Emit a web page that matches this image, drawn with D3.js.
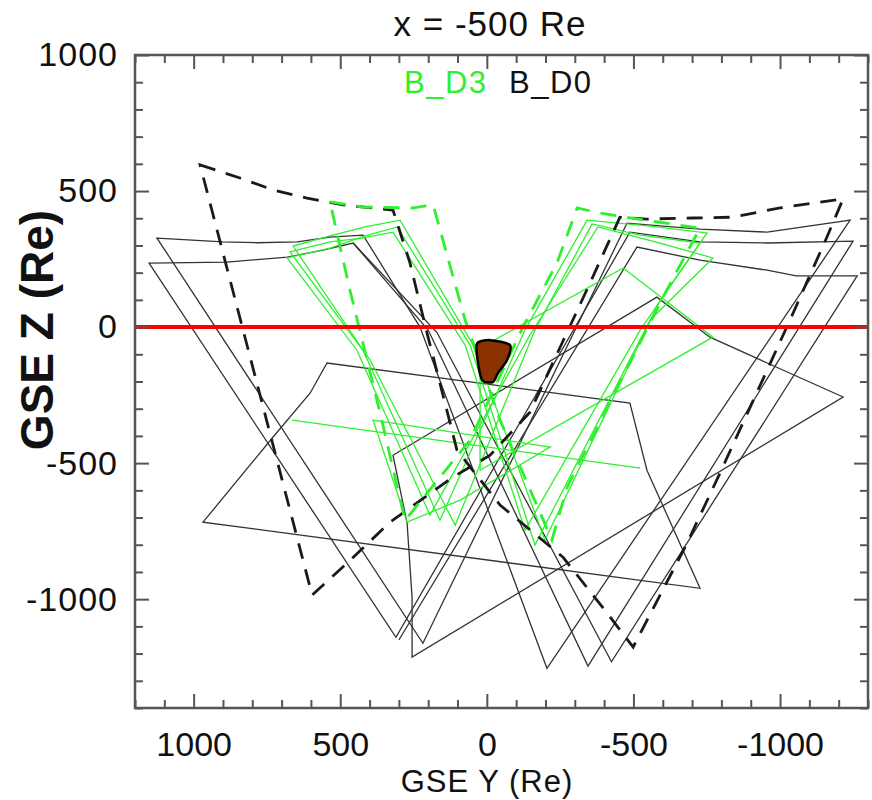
<!DOCTYPE html>
<html>
<head>
<meta charset="utf-8">
<script src="https://cdn.jsdelivr.net/npm/d3@7"></script>
<style>
  html, body { margin: 0; padding: 0; background: #fff; }
  svg { display: block; }
  text { font-family: "Liberation Sans", Arial, sans-serif; }
</style>
</head>
<body>
<svg id="chart" width="872" height="800"></svg>
<script>
// ---- axis setup (GSE Y runs right-to-left) ----
const yDomainGSE = [1200, -1300];
const zDomainGSE = [-1400, 1000];
const majorTicksY = [1000, 500, 0, -500, -1000];
const majorTicksZ = [1000, 500, 0, -500, -1000];
const tickLabelsY = ["1000", "500", "0", "-500", "-1000"];
const tickLabelsZ = ["1000", "500", "0", "-500", "-1000"];

// ---- B_D0 footprints (black), [GSE Y, GSE Z] in Re ----
const d0Wedge1 = [[1125,327],[900,313],[785,310],[647,313],[535,331],[422,338],[228,0],[-205,-1254],
  [-1239,393],[-956,349],[-727,360],[-478,382],[218,-1162]];
const d0Wedge2 = [[1152,235],[886,239],[681,257],[559,283],[456,309],[200,-11],[-345,-1246],
  [-1249,316],[-956,309],[-727,313],[-488,349],[310,-1140]];
const d0Wedge3 = [[456,309],[170,-20],[-425,-1230],[-1263,188],[-1055,188],[-956,209],[-727,246],[-512,294],[300,-1150]];
const d0Quad1 = [[968,-717],[729,-404],[603,-243],[545,-132],[-488,-279],[-546,-526],[-727,-960]];
const d0Quad2 = [[320,-471],[-580,110],[-761,-37],[-956,-132],[-1215,-257],[255,-1213],[255,-993],[272,-721]];
const d0Outer = [[978,596],[842,548],[729,504],[613,474],[490,449],[320,430],[262,235],[204,-22],[160,-206],
  [102,-452],[-45,-654],[-260,-846],[-410,-1051],[-499,-1176],[-683,-794],[-795,-537],[-1034,26],[-1160,331],
  [-1215,471],[-1000,438],[-840,404],[-703,401],[-546,397],[-454,404],[-352,162],[-250,-74],[-147,-313],
  [-11,-471],[115,-551],[330,-717],[477,-868],[596,-985]];

// ---- B_D3 footprints (green) ----
const d3Wedge1 = [[661,298],[535,335],[415,368],[296,393],[47,-66],[-198,-783],[-591,99],[-751,346],
  [-557,371],[-342,393],[-130,-11],[160,-710],[422,-85]];
const d3Wedge2 = [[681,254],[535,290],[415,335],[306,368],[57,-66],[-164,-801],[-557,26],[-771,254],
  [-591,309],[-379,368],[-147,-29],[194,-691],[443,-85]];
const d3Wedge3 = [[671,276],[535,313],[426,327],[320,349],[74,-66],[-130,-746],[-523,-11],[-727,309],
  [-523,338],[-359,379],[-164,-11],[108,-728],[398,-121]];
const d3Quad1 = [[664,-342],[-523,-518]];
const d3Quad2 = [[23,-77],[-465,217],[-771,-37],[23,-526]];
const d3Quad3 = [[388,-342],[-216,-441],[91,-636],[272,-717]];
const d3Outer = [[535,460],[422,441],[252,438],[183,449],[115,184],[74,26],[-45,-342],[-222,-783],
  [-274,-588],[-601,110],[-727,364],[-557,390],[-386,419],[-308,438],[-239,235],[-123,0],[57,-415],
  [279,-710],[364,-316],[467,136]];

// ---- body outline near the origin ----
const bodyOutline = [[33,-59],[-11,-48],[-79,-66],[-69,-121],[-38,-169],[-21,-202],[16,-195],[33,-110]];

const legendNames = ["B_D3", "B_D0"];
const titleText = "x = -500 Re";

const svg = d3.select("#chart");
const margin = { left: 135, right: 868, top: 55, bottom: 708 };

const x = d3.scaleLinear().domain(yDomainGSE).range([margin.left, margin.right]);
const y = d3.scaleLinear().domain(zDomainGSE).range([margin.bottom, margin.top]);

svg.append("clipPath").attr("id", "plotClip").append("rect")
  .attr("x", margin.left).attr("y", margin.top)
  .attr("width", margin.right - margin.left).attr("height", margin.bottom - margin.top);

const plot = svg.append("g").attr("clip-path", "url(#plotClip)");

const lineOpen = d3.line().x(d => x(d[0])).y(d => y(d[1]));
const lineClosed = d3.line().x(d => x(d[0])).y(d => y(d[1])).curve(d3.curveLinearClosed);

const black = "#333333";
const green = "#2ef02e";

// solid footprints
[d0Wedge1, d0Wedge2, d0Quad1, d0Quad2].forEach(pts => {
  plot.append("path").attr("d", lineClosed(pts))
    .attr("fill", "none").attr("stroke", black).attr("stroke-width", 1.3);
});
plot.append("path").attr("d", lineOpen(d0Wedge3))
  .attr("fill", "none").attr("stroke", black).attr("stroke-width", 1.3);

[d3Wedge1, d3Wedge2, d3Wedge3, d3Quad2, d3Quad3].forEach(pts => {
  plot.append("path").attr("d", lineClosed(pts))
    .attr("fill", "none").attr("stroke", green).attr("stroke-width", 1.3);
});
plot.append("path").attr("d", lineOpen(d3Quad1))
  .attr("fill", "none").attr("stroke", green).attr("stroke-width", 1.3);

// dashed outer envelopes
plot.append("path").attr("d", lineClosed(d0Outer))
  .attr("fill", "none").attr("stroke", "#1a1a1a").attr("stroke-width", 2.8)
  .attr("stroke-dasharray", "16,11");
plot.append("path").attr("d", lineClosed(d3Outer))
  .attr("fill", "none").attr("stroke", green).attr("stroke-width", 2.8)
  .attr("stroke-dasharray", "16,11");

// Z = 0 reference line
plot.append("line")
  .attr("x1", x(yDomainGSE[0])).attr("x2", x(yDomainGSE[1]))
  .attr("y1", y(0)).attr("y2", y(0))
  .attr("stroke", "#ff0000").attr("stroke-width", 4);

// body
plot.append("path")
  .attr("d", d3.line().x(d => x(d[0])).y(d => y(d[1])).curve(d3.curveCardinalClosed.tension(0.3))(bodyOutline))
  .attr("fill", "#8c3200").attr("stroke", "#000").attr("stroke-width", 2.5);

// ---- frame and ticks on all four sides ----
const axisColor = "#555";
const minorY = d3.range(-1300, 1201, 100).filter(v => v % 500 !== 0);
const minorZ = d3.range(-1400, 1001, 100).filter(v => v % 500 !== 0);

function styleAxis(g) {
  g.select(".domain").remove();
  g.selectAll(".tick line").attr("stroke", axisColor).attr("stroke-width", 2);
}

const fontSize = 34;
const labelStyle = g => g.selectAll("text").attr("font-size", fontSize).attr("fill", "#111")
  .attr("font-family", "Liberation Sans, Arial, sans-serif");

svg.append("g").attr("transform", `translate(0,${margin.bottom})`)
  .call(d3.axisBottom(x).tickValues(majorTicksY).tickSize(-14).tickPadding(24)
    .tickFormat((d, i) => tickLabelsY[i]))
  .call(styleAxis).call(labelStyle);
svg.append("g").attr("transform", `translate(0,${margin.bottom})`)
  .call(d3.axisBottom(x).tickValues(minorY).tickSize(-8).tickFormat(""))
  .call(styleAxis);

svg.append("g").attr("transform", `translate(0,${margin.top})`)
  .call(d3.axisTop(x).tickValues(majorTicksY).tickSize(-14).tickFormat(""))
  .call(styleAxis);
svg.append("g").attr("transform", `translate(0,${margin.top})`)
  .call(d3.axisTop(x).tickValues(minorY).tickSize(-8).tickFormat(""))
  .call(styleAxis);

svg.append("g").attr("transform", `translate(${margin.left},0)`)
  .call(d3.axisLeft(y).tickValues(majorTicksZ).tickSize(-14).tickPadding(17)
    .tickFormat((d, i) => tickLabelsZ[i]))
  .call(styleAxis).call(labelStyle)
  .call(g => g.selectAll("text").attr("letter-spacing", 1));
svg.append("g").attr("transform", `translate(${margin.left},0)`)
  .call(d3.axisLeft(y).tickValues(minorZ).tickSize(-8).tickFormat(""))
  .call(styleAxis);

svg.append("g").attr("transform", `translate(${margin.right},0)`)
  .call(d3.axisRight(y).tickValues(majorTicksZ).tickSize(-14).tickFormat(""))
  .call(styleAxis);
svg.append("g").attr("transform", `translate(${margin.right},0)`)
  .call(d3.axisRight(y).tickValues(minorZ).tickSize(-8).tickFormat(""))
  .call(styleAxis);

svg.append("rect")
  .attr("x", margin.left).attr("y", margin.top)
  .attr("width", margin.right - margin.left).attr("height", margin.bottom - margin.top)
  .attr("fill", "none").attr("stroke", axisColor).attr("stroke-width", 2.5);

// ---- titles and legend ----
svg.append("text").attr("x", 490).attr("y", 36).attr("text-anchor", "middle")
  .attr("font-size", 35).attr("letter-spacing", 1).attr("fill", "#111").text(titleText);

svg.append("text").attr("x", 487).attr("y", 792).attr("text-anchor", "middle")
  .attr("font-size", 31).attr("letter-spacing", 1).attr("fill", "#111").text("GSE Y (Re)");

svg.append("text")
  .attr("transform", "translate(53,330) rotate(-90)")
  .attr("text-anchor", "middle").attr("font-size", 46).attr("font-weight", "bold")
  .attr("fill", "#111").text("GSE Z (Re)");

svg.append("text").attr("x", 404).attr("y", 93).attr("font-size", 31).attr("letter-spacing", 1.5)
  .attr("fill", green).text(legendNames[0]);
svg.append("text").attr("x", 509).attr("y", 93).attr("font-size", 31).attr("letter-spacing", 1.5)
  .attr("fill", "#111").text(legendNames[1]);
</script>
</body>
</html>
